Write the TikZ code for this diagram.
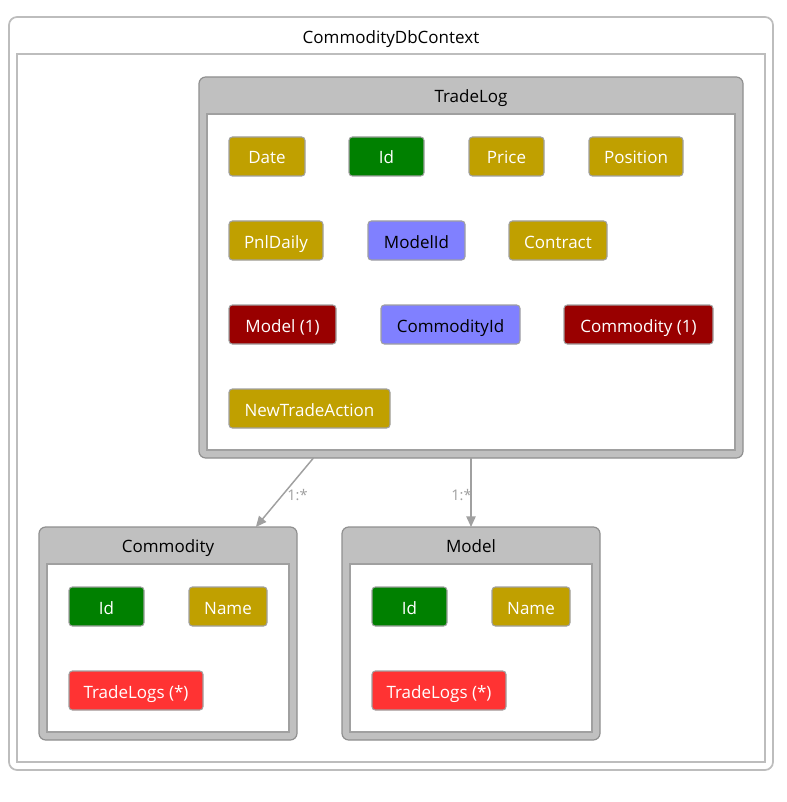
\documentclass[tikz,border=0pt]{standalone}
\usepackage{fontspec}
\setmainfont{Open Sans}
\usetikzlibrary{fit,arrows.meta}
\definecolor{gold}{HTML}{C0A000}
\definecolor{pkgreen}{HTML}{008000}
\definecolor{fkblue}{HTML}{8080FF}
\definecolor{navred}{HTML}{990000}
\definecolor{collred}{HTML}{FF3333}
\definecolor{grpgrey}{HTML}{C0C0C0}
\definecolor{edgegrey}{HTML}{A0A0A0}
\definecolor{ctxgrey}{HTML}{BDBDBD}
\tikzset{
  box/.style={inner sep=0pt, outer sep=0pt, fit={#1}},
  sz/.style 2 args={minimum width=#1*0.75pt, minimum height=#2*0.75pt},
  ctxouter/.style={draw=ctxgrey, line width=1.3pt, fill=white, rounded corners=6pt},
  ctxinner/.style={draw=ctxgrey, line width=1.1pt, fill=white},
  grp/.style={draw=edgegrey!90!black, line width=0.9pt, fill=grpgrey, rounded corners=5pt},
  grpbody/.style={draw=edgegrey, line width=0.9pt, fill=white},
  ttl/.style={font=\fontsize{12.75pt}{15pt}\selectfont, text=black, inner sep=0pt, anchor=base},
  attr/.style={draw=edgegrey, line width=0.8pt, rounded corners=2.5pt, inner sep=0pt, outer sep=0pt,
    text height=12pt, text depth=0.75pt,
    font=\fontsize{12.75pt}{15pt}\selectfont, text=white},
  agold/.style={attr, fill=gold},
  agreen/.style={attr, fill=pkgreen},
  ablue/.style={attr, fill=fkblue, text=black},
  anav/.style={attr, fill=navred},
  acoll/.style={attr, fill=collred},
  rel/.style={draw=edgegrey, line width=1.1pt, -{Triangle[length=8pt,width=7pt]}},
  rellabel/.style={text=edgegrey, font=\fontsize{11pt}{13pt}\selectfont, inner sep=0pt, anchor=base west},
}
\begin{document}
\begin{tikzpicture}[x=0.75pt,y=-0.75pt]
\useasboundingbox (0,0) rectangle (786,802);
% context
\node[ctxouter, box={(9,17)(773,770)}] (ctx) {};
\node[ttl] (ctxtitle) at (391,44) {CommodityDbContext};
\node[ctxinner, box={(17,54)(765,762)}] (ctxbody) {};
% TradeLog
\node[grp, box={(199,77)(743,458)}] (tradelog) {};
\node[ttl] (tradelogtitle) at (471,103) {TradeLog};
\node[grpbody, box={(207,114)(735,450)}] (tradelogbody) {};
\node[agold, sz={76}{39}] (tdate) at (267,156.5) {Date};
\node[agreen, sz={75}{39}] (tid) at (386.5,156.5) {Id};
\node[agold, sz={75}{39}] (tprice) at (506.5,156.5) {Price};
\node[agold, sz={94}{39}] (tposition) at (636,156.5) {Position};
\node[agold, sz={94}{39}] (tpnl) at (276,240.5) {PnlDaily};
\node[ablue, sz={97}{39}] (tmodelid) at (416.5,240.5) {ModelId};
\node[agold, sz={98}{39}] (tcontract) at (558,240.5) {Contract};
\node[anav, sz={107}{39}] (tmodel) at (282.5,324.5) {Model (1)};
\node[ablue, sz={139}{39}] (tcommodityid) at (450.5,324.5) {CommodityId};
\node[anav, sz={149}{39}] (tcommodity) at (638.5,324.5) {Commodity (1)};
\node[agold, sz={161}{39}] (tnewtrade) at (309.5,408.5) {NewTradeAction};
% Commodity
\node[grp, box={(39,527)(297,740)}] (commodity) {};
\node[ttl] (commoditytitle) at (168,552) {Commodity};
\node[grpbody, box={(47,564)(289,732)}] (commoditybody) {};
\node[agreen, sz={75}{39}] (cid) at (106.5,606.5) {Id};
\node[agold, sz={78}{39}] (cname) at (228,606.5) {Name};
\node[acoll, sz={134}{39}] (ctradelogs) at (136,690.5) {TradeLogs (*)};
% Model
\node[grp, box={(342,527)(600,740)}] (model) {};
\node[ttl] (modeltitle) at (471,552) {Model};
\node[grpbody, box={(350,564)(592,732)}] (modelbody) {};
\node[agreen, sz={75}{39}] (mid) at (409.5,606.5) {Id};
\node[agold, sz={78}{39}] (mname) at (531,606.5) {Name};
\node[acoll, sz={134}{39}] (mtradelogs) at (439,690.5) {TradeLogs (*)};
% relations
\draw[rel] (tradelog) -- (commodity);
\draw[rel] (tradelog) -- (model);
\node[rellabel] (lab1) at (287,500) {1:*};
\node[rellabel] (lab2) at (451,500) {1:*};
\end{tikzpicture}
\end{document}
